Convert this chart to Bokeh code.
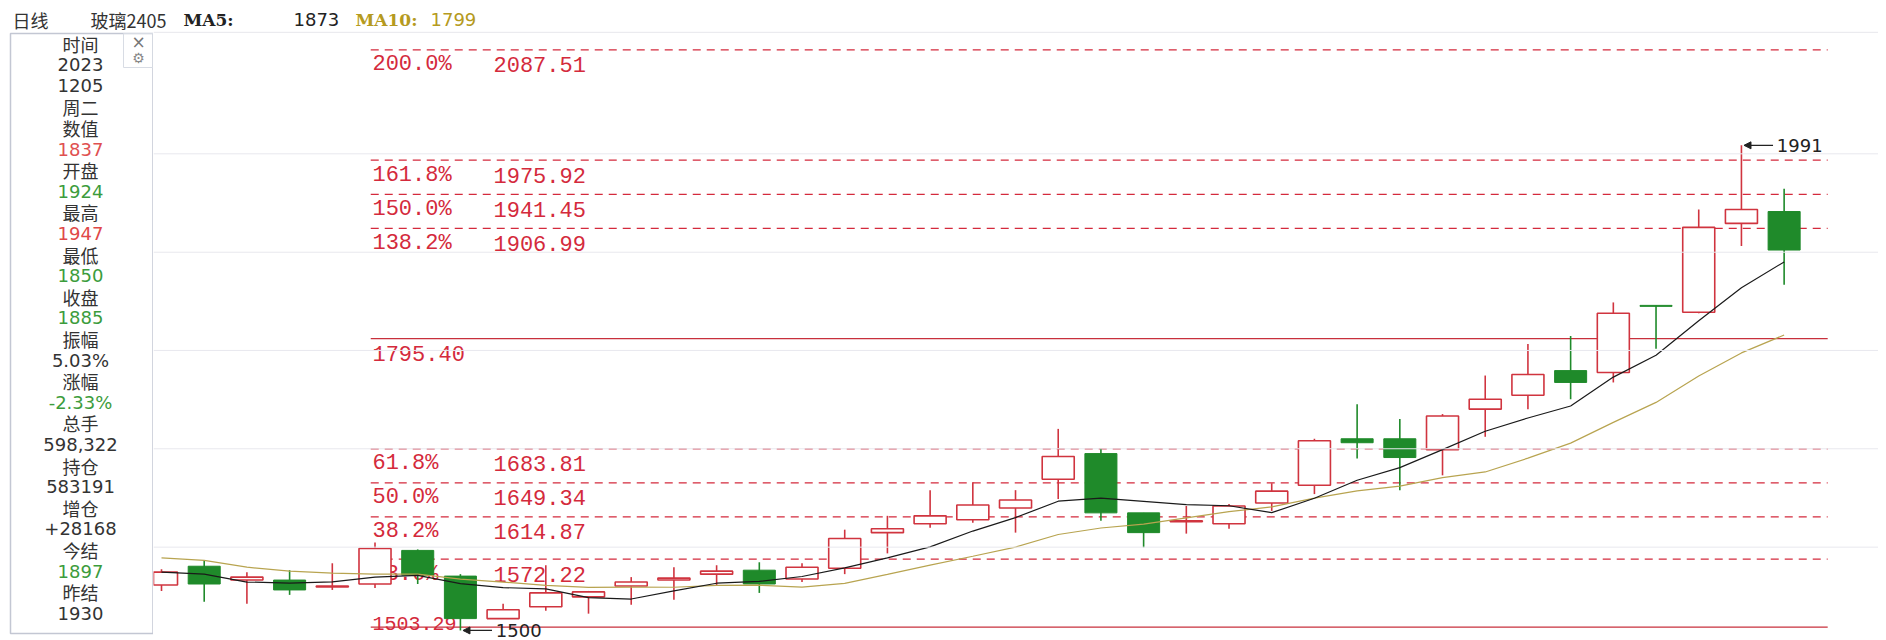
from bokeh.plotting import figure
from bokeh.layouts import column, row
from bokeh.models import Range1d, Span, Arrow, NormalHead
from bokeh.core.properties import value
from bokeh.embed import file_html
from bokeh.resources import INLINE

# ---------------- data ----------------
opens = [1546, 1565, 1551, 1551, 1544, 1547, 1581, 1555, 1512, 1524,
         1534, 1545, 1551, 1557, 1561, 1552, 1563, 1599, 1608, 1612,
         1624, 1653, 1679, 1619, 1610, 1608, 1629, 1647, 1694, 1694,
         1683, 1724, 1738, 1763, 1761, 1829, 1822, 1912, 1924]
highs = [1562, 1571, 1559, 1561, 1568, 1589, 1582, 1557, 1527, 1566,
         1540, 1554, 1564, 1566, 1569, 1568, 1602, 1616, 1642, 1650,
         1642, 1704, 1684, 1619, 1626, 1628, 1649, 1694, 1729, 1714,
         1719, 1758, 1790, 1798, 1832, 1829, 1926, 1991, 1947]
lows = [1540, 1529, 1527, 1536, 1541, 1543, 1547, 1500, 1512, 1520,
        1517, 1526, 1531, 1545, 1538, 1549, 1557, 1578, 1604, 1609,
        1599, 1633, 1611, 1584, 1598, 1603, 1621, 1638, 1674, 1642,
        1657, 1696, 1724, 1734, 1751, 1785, 1821, 1889, 1850]
closes = [1559, 1547, 1554, 1541, 1545, 1583, 1556, 1512, 1521, 1538,
          1539, 1549, 1553, 1560, 1547, 1564, 1593, 1603, 1616, 1627,
          1632, 1676, 1619, 1599, 1611, 1626, 1641, 1692, 1690, 1675,
          1717, 1734, 1759, 1751, 1821, 1828, 1908, 1926, 1885]
ma5 = [1559, 1557, 1549, 1548, 1549.2, 1554.0, 1555.8, 1547.4, 1543.4, 1542.0,
       1533.2, 1531.8, 1540.0, 1547.8, 1549.6, 1554.6, 1563.4, 1573.4, 1584.6, 1600.6,
       1614.2, 1630.8, 1634.0, 1630.6, 1627.4, 1626.2, 1619.2, 1633.8, 1652.0, 1664.8,
       1683.0, 1701.6, 1715.0, 1727.2, 1756.4, 1778.6, 1813.4, 1846.8, 1873]
ma10 = [1573.5, 1571, 1564, 1560, 1558, 1557, 1557, 1552, 1549, 1545.6,
        1543.6, 1543.8, 1543.7, 1545.6, 1545.8, 1543.9, 1547.6, 1556.7, 1566.2, 1575.1,
        1584.4, 1597.1, 1603.7, 1607.6, 1614.0, 1620.2, 1625.0, 1633.9, 1641.3, 1646.1,
        1654.6, 1660.4, 1674.4, 1689.6, 1710.6, 1730.8, 1757.5, 1780.9, 1799]

fib_pct = ["200.0%", "161.8%", "150.0%", "138.2%", "61.8%", "50.0%", "38.2%", "23.6%"]
fib_val = [2087.51, 1975.92, 1941.45, 1906.99, 1683.81, 1649.34, 1614.87, 1572.22]
base_high = 1795.40
base_low = 1503.29
grid_levels = [1982.4, 1882.8, 1783.4, 1683.9, 1584.3]

panel_rows = ["时间", "2023", "1205", "周二", "数值", "1837", "开盘", "1924",
              "最高", "1947", "最低", "1850", "收盘", "1885", "振幅", "5.03%",
              "涨幅", "-2.33%", "总手", "598,322", "持仓", "583191", "增仓", "+28168",
              "今结", "1897", "昨结", "1930"]
panel_row_colors = ["#333333", "#333333", "#333333", "#333333", "#333333", "#e05050",
                    "#333333", "#3c9c3c", "#333333", "#e04848", "#333333", "#3c9c3c",
                    "#333333", "#3c9c3c", "#333333", "#333333", "#333333", "#3c9c3c",
                    "#333333", "#333333", "#333333", "#333333", "#333333", "#333333",
                    "#333333", "#3c9c3c", "#333333", "#333333"]

title_name = ["日线", "玻璃2405"]

# ---------------- styles ----------------
RED = "#d0343f"
GREEN = "#1f8a2a"
FIB = "#d42a3c"
BASE = "#c8303c"
MA5_C = "#1a1a1a"
MA10_C = "#b8a450"
TXT = "#333333"

FONT_CJK = "Noto Sans CJK SC"
FONT_NUM = "DejaVu Sans"


def bare(fig):
    fig.min_border_left = 0
    fig.min_border_right = 0
    fig.min_border_top = 0
    fig.min_border_bottom = 0
    fig.outline_line_color = None
    fig.background_fill_color = "white"
    fig.border_fill_color = "white"
    return fig


# ---------------- title strip (page y 0..31) ----------------
tf = bare(figure(width=1878, height=31, x_range=Range1d(0, 1878), y_range=Range1d(31, 0),
                 output_backend="svg", toolbar_location=None, x_axis_type=None,
                 y_axis_type=None, title=None))
TY = 19
tf.text(x=[12], y=[TY], text=[title_name[0]], text_font=value(FONT_CJK), text_font_size="18px",
        text_color=TXT, text_baseline="middle", text_align="left")
tf.text(x=[90], y=[TY], text=[title_name[1]], text_font=value(FONT_CJK), text_font_size="18px",
        text_color=TXT, text_baseline="middle", text_align="left")
tf.text(x=[183], y=[TY], text=["MA5:"], text_font=value("DejaVu Serif"), text_font_size="17px",
        text_font_style="bold", text_color="#222222", text_baseline="middle", text_align="left")
tf.text(x=[293], y=[TY], text=[f"{round(ma5[-1])}"], text_font=value(FONT_NUM), text_font_size="18px",
        text_color="#222222", text_baseline="middle", text_align="left")
tf.text(x=[355], y=[TY], text=["MA10:"], text_font=value("DejaVu Serif"), text_font_size="17px",
        text_font_style="bold", text_color="#b59a20", text_baseline="middle", text_align="left")
tf.text(x=[430], y=[TY], text=[f"{round(ma10[-1])}"], text_font=value(FONT_NUM), text_font_size="18px",
        text_color="#b59a20", text_baseline="middle", text_align="left")

# ---------------- info panel (page x 0..153, y 31..640) ----------------
pn = bare(figure(width=153, height=609, x_range=Range1d(0, 153), y_range=Range1d(609, 0),
                 output_backend="svg", toolbar_location=None, x_axis_type=None,
                 y_axis_type=None, title=None))
pn.quad(left=[10], right=[152.5], top=[2], bottom=[602], fill_color=None,
        line_color="#c3c7d3", line_width=1.5)
pn.quad(left=[123], right=[152.5], top=[2], bottom=[36], fill_color=None,
        line_color="#d8dce4", line_width=1)
pn.text(x=[138], y=[10], text=["×"], text_font=value(FONT_NUM), text_font_size="17px",
        text_color="#777777", text_baseline="middle", text_align="center")
pn.text(x=[138], y=[26], text=["⚙"], text_font=value(FONT_NUM), text_font_size="14px",
        text_color="#888888", text_baseline="middle", text_align="center")

row_y = [12 + 21.1 * k for k in range(len(panel_rows))]
lab_idx = [k for k in range(len(panel_rows)) if any('\u4e00' <= ch <= '\u9fff' for ch in panel_rows[k])]
num_idx = [k for k in range(len(panel_rows)) if k not in lab_idx]
pn.text(x=[80] * len(lab_idx), y=[row_y[k] for k in lab_idx], text=[panel_rows[k] for k in lab_idx],
        text_color=[panel_row_colors[k] for k in lab_idx], text_font=value(FONT_CJK),
        text_font_size="18px", text_baseline="middle", text_align="center")
pn.text(x=[80] * len(num_idx), y=[row_y[k] for k in num_idx], text=[panel_rows[k] for k in num_idx],
        text_color=[panel_row_colors[k] for k in num_idx], text_font=value(FONT_NUM),
        text_font_size="18px", text_baseline="middle", text_align="center")

# ---------------- main chart (page x 153..1878, y 31..640) ----------------
p = bare(figure(width=1725, height=609, x_range=Range1d(-0.1874, 40.21),
                y_range=Range1d(1489.83, 2106.2), output_backend="svg",
                toolbar_location=None, x_axis_type=None, y_axis_type=None, title=None))

for g in grid_levels:
    p.add_layout(Span(location=g, dimension="width", line_color="#e8e8ee", line_width=1))
p.add_layout(Span(location=2105.5, dimension="width", line_color="#e2e2e8", line_width=1))

X0, X1 = 4.9, 39.02
n = len(fib_val)
p.segment(x0=[X0] * n, x1=[X1] * n, y0=fib_val, y1=fib_val, line_color=FIB,
          line_width=1.3, line_dash="8 6")
p.segment(x0=[X0] * 2, x1=[X1] * 2, y0=[base_high, base_low], y1=[base_high, base_low],
          line_color=BASE, line_width=1.3)

LBL = dict(text_font=value("Liberation Mono"), text_font_size="22px", text_color=FIB,
           text_baseline="alphabetic", text_align="left", y_offset=15)
p.text(x=[4.94] * n, y=fib_val, text=fib_pct, **LBL)
p.text(x=[7.775] * n, y=fib_val, text=[f"{v:.2f}" for v in fib_val], **LBL)
p.text(x=[4.94], y=[base_high], text=[f"{base_high:.2f}"], **LBL)
# the lowest level sits at the bottom edge: keep its label just above the line
p.text(x=[4.94], y=[base_low], text=[f"{base_low:.2f}"], text_font=value("Liberation Mono"),
       text_font_size="20px", text_color=FIB, text_baseline="alphabetic",
       text_align="left", y_offset=-4)

idx = list(range(len(closes)))
up = [i for i in idx if closes[i] >= opens[i]]
dn = [i for i in idx if closes[i] < opens[i]]
BW = 0.75

# down (green, filled)
p.segment(x0=dn, x1=dn, y0=[highs[i] for i in dn], y1=[lows[i] for i in dn],
          line_color=GREEN, line_width=1.6)
p.vbar(x=dn, width=BW, top=[opens[i] for i in dn], bottom=[closes[i] for i in dn],
       fill_color=GREEN, line_color=GREEN, line_width=1)

# up (red, hollow)
p.segment(x0=up, x1=up, y0=[highs[i] for i in up], y1=[closes[i] for i in up],
          line_color=RED, line_width=1.6)
p.segment(x0=up, x1=up, y0=[opens[i] for i in up], y1=[lows[i] for i in up],
          line_color=RED, line_width=1.6)
p.vbar(x=up, width=BW, top=[closes[i] for i in up], bottom=[opens[i] for i in up],
       fill_color="white", line_color=RED, line_width=1.6)

# moving averages
p.line(x=idx, y=ma10, line_color=MA10_C, line_width=1.2)
p.line(x=idx, y=ma5, line_color=MA5_C, line_width=1.2)

# extreme markers
i_hi = highs.index(max(highs))
i_lo = lows.index(min(lows))
for i_m, v_m in ((i_hi, max(highs)), (i_lo, min(lows))):
    p.add_layout(Arrow(end=NormalHead(size=7, fill_color="#222222", line_color="#222222",
                                      line_width=1),
                       x_start=i_m + 0.74, y_start=v_m, x_end=i_m + 0.06, y_end=v_m,
                       line_color="#222222", line_width=1.2))
    p.text(x=[i_m + 0.83], y=[v_m], text=[f"{v_m}"], text_font=value(FONT_NUM),
           text_font_size="18px", text_color="#222222", text_baseline="middle",
           text_align="left")

layout = column(tf, row(pn, p))
open("out.html", "w").write(file_html(layout, INLINE))
